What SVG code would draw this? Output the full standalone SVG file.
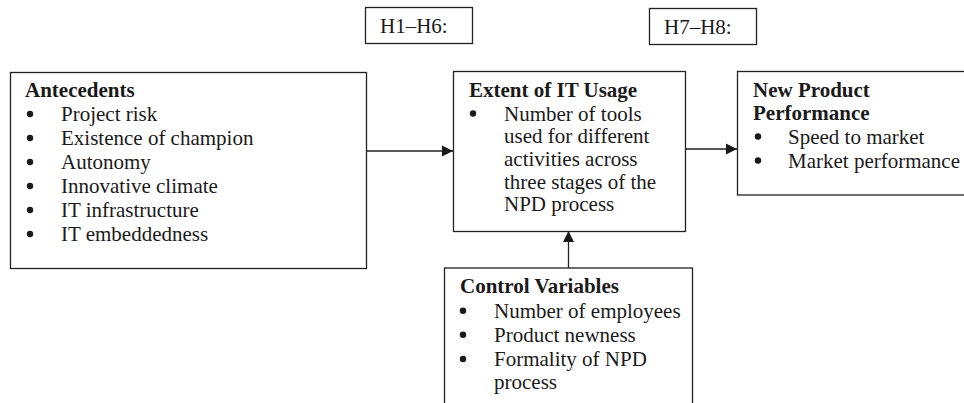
<svg xmlns="http://www.w3.org/2000/svg" width="964" height="403" viewBox="0 0 964 403">
<style>
.box{fill:#fff;stroke:#222;stroke-width:1.3}
.t{font-family:"Liberation Serif","Times New Roman",serif;font-size:21px;fill:#1a1a1a}
.b{font-weight:bold}
.c{stroke:#222;stroke-width:1.3;fill:none}
.d{fill:#1a1a1a}
</style>
<defs>
<marker id="ah" markerUnits="userSpaceOnUse" markerWidth="12" markerHeight="12" refX="11" refY="6" orient="auto">
<path d="M0,0.5 L11,6 L0,11.5 Z" fill="#1a1a1a"/>
</marker>
</defs>
<rect width="964" height="403" fill="#fff"/>
<g id="h1h6">
<rect class="box" x="365.5" y="7.5" width="107" height="36"/>
<text class="t" x="380" y="33">H1–H6:</text>
</g>
<g id="h7h8">
<rect class="box" x="649.5" y="8.5" width="107" height="36"/>
<text class="t" x="664" y="34">H7–H8:</text>
</g>
<g id="connectors">
<line class="c" x1="366" y1="151" x2="453" y2="151" marker-end="url(#ah)"/>
<line class="c" x1="685" y1="149" x2="737" y2="149" marker-end="url(#ah)"/>
<line class="c" x1="568.5" y1="268" x2="568.5" y2="231" marker-end="url(#ah)"/>
</g>
<g id="antecedents">
<rect class="box" x="10.5" y="72.5" width="356" height="196"/>
<text class="t b" x="25" y="97">Antecedents</text>
<circle class="d" cx="30" cy="114" r="3.2"/><text class="t" x="61" y="121">Project risk</text>
<circle class="d" cx="30" cy="138" r="3.2"/><text class="t" x="61" y="145">Existence of champion</text>
<circle class="d" cx="30" cy="162" r="3.2"/><text class="t" x="61" y="169">Autonomy</text>
<circle class="d" cx="30" cy="186" r="3.2"/><text class="t" x="61" y="193">Innovative climate</text>
<circle class="d" cx="30" cy="210" r="3.2"/><text class="t" x="61" y="217">IT infrastructure</text>
<circle class="d" cx="30" cy="234" r="3.2"/><text class="t" x="61" y="241">IT embeddedness</text>
</g>
<g id="extent">
<rect class="box" x="453.5" y="71.5" width="232" height="160"/>
<text class="t b" x="469" y="97">Extent of IT Usage</text>
<circle class="d" cx="473" cy="113.5" r="3.2"/>
<text class="t" x="504" y="120.5">Number of tools</text>
<text class="t" x="504" y="143.3">used for different</text>
<text class="t" x="504" y="166">activities across</text>
<text class="t" x="504" y="188.7">three stages of the</text>
<text class="t" x="504" y="211.3">NPD process</text>
</g>
<g id="npp">
<rect class="box" x="737.5" y="71.5" width="240" height="123.5"/>
<text class="t b" x="753" y="97">New Product</text>
<text class="t b" x="753" y="120">Performance</text>
<circle class="d" cx="758" cy="136.5" r="3.2"/><text class="t" x="788" y="143.5">Speed to market</text>
<circle class="d" cx="758" cy="160.5" r="3.2"/><text class="t" x="788" y="167.5">Market performance</text>
</g>
<g id="control">
<rect class="box" x="444.5" y="268" width="248" height="150"/>
<text class="t b" x="460" y="293">Control Variables</text>
<circle class="d" cx="463" cy="310.7" r="3.2"/><text class="t" x="494" y="317.7">Number of employees</text>
<circle class="d" cx="463" cy="334.7" r="3.2"/><text class="t" x="494" y="341.7">Product newness</text>
<circle class="d" cx="463" cy="359" r="3.2"/><text class="t" x="494" y="366">Formality of NPD</text>
<text class="t" x="494" y="388.5">process</text>
</g>
</svg>
